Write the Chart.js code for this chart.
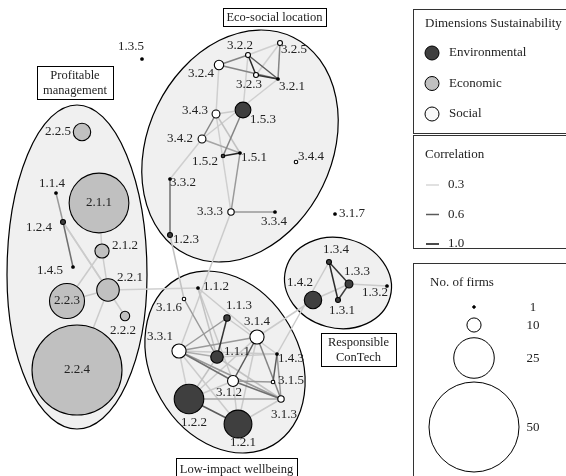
<!DOCTYPE html>
<html>
<head>
<meta charset="utf-8">
<script src="https://cdn.jsdelivr.net/npm/chart.js@4"></script>
<style>
html, body { margin: 0; padding: 0; background: #fff; }
#wrap { width: 566px; height: 476px; }
</style>
</head>
<body>
<div id="wrap"><canvas id="chart" width="566" height="476"></canvas></div>
<script>
// NODES (layout coordinates, number of firms)
var nodeIds = ['1.1.1','1.1.2','1.1.3','1.1.4','1.2.1','1.2.2','1.2.3','1.2.4','1.3.1','1.3.2','1.3.3','1.3.4','1.3.5','1.4.2','1.4.3','1.4.5','1.5.1','1.5.2','1.5.3',
  '2.1.1','2.1.2','2.2.1','2.2.2','2.2.3','2.2.4','2.2.5',
  '3.1.2','3.1.3','3.1.4','3.1.5','3.1.6','3.1.7','3.2.1','3.2.2','3.2.3','3.2.4','3.2.5','3.3.1','3.3.2','3.3.3','3.3.4','3.4.2','3.4.3','3.4.4'];
var nodeX = [217,198,227,56,238,189,170,63,338,387,349,329,142,313,277,73,240,223,243,
  99,102,108,125,67,77,82,
  233,281,257,273,184,335,278,248,256,219,280,179,170,231,275,202,216,296];
var nodeY = [357,288,318,193,424,399,235,222,300,286,284,262,59,300,354,267,153,156,110,
  203,251,290,316,301,370,132,
  381,399,337,382,299,214,79,55,75,65,43,351,179,212,212,139,114,162];
var nodeFirms = [9,1,5,1,18,19,4,4,4,1,6,4,1,12,1,1,1,3,11,
  35,10,15,7,22,50,12,
  8,5,10,3,3,1,1,4,4,7,4,10,1,5,1,6,6,3];

// label offsets from node centre (text centre)
var labelDx = [20,18,12,-4,5,5,16,-24,4,-12,8,7,-11,-13,14,-23,14,-18,20,
  0,23,22,-2,0,0,-24,
  -4,3,0,18,-15,17,14,-8,-7,-18,14,-19,13,-21,-1,-22,-21,15];
var labelDy = [-5,-1,-12,-9,19,24,5,6,11,7,-12,-12,-12,-17,5,4,5,6,10,
  0,-5,-12,15,0,0,0,
  12,16,-15,-1,9,0,8,-9,10,9,7,-14,4,0,10,0,-3,-5];

// EDGES (correlation)
var edgeFrom = ['1.1.4','1.2.4','1.2.4','1.2.4','2.1.1','2.1.2','2.1.2','2.2.1','2.2.1','2.2.1',
  '3.2.4','3.2.4','3.2.2','3.2.2','3.2.3','3.2.2','3.2.5','3.2.5','3.2.4','3.2.2','3.2.1','3.4.3','3.4.3','3.4.3','3.4.2','1.5.3','1.5.2','1.5.1','3.4.3','3.3.3','3.3.2','3.3.2','3.3.3','1.2.3',
  '3.1.6','1.1.2','1.1.2','1.1.2','1.1.3','1.1.3','1.1.3','3.3.1','3.3.1','3.3.1','3.3.1','3.3.1','3.3.1','3.3.1','3.1.4','3.1.4','3.1.4','3.1.4','1.4.3','1.4.3','1.1.1','3.1.2','3.1.2','3.1.2','3.1.2','1.2.2','1.2.2','1.2.1','1.1.1','1.1.1',
  '1.3.4','1.3.4','1.3.3','1.3.3','1.3.3','1.3.4','1.4.2'];
var edgeTo = ['1.2.4','1.4.5','2.2.1','2.2.2','2.1.2','2.2.1','2.2.3','2.2.3','2.2.4','1.1.2',
  '3.2.2','3.2.1','3.2.3','3.2.1','3.2.1','3.2.5','3.2.1','3.2.3','3.4.3','1.5.3','3.4.2','1.5.3','3.4.2','1.5.1','1.5.1','1.5.2','1.5.1','3.3.3','3.3.3','3.3.4','3.4.2','1.2.3','3.3.1','3.1.6',
  '1.1.1','3.1.4','3.1.2','1.1.1','1.1.1','3.3.1','1.4.3','3.1.4','1.1.1','3.1.2','3.1.3','1.4.3','1.2.1','1.2.2','3.1.2','3.1.3','1.2.2','1.2.1','3.1.5','3.1.3','1.4.3','3.1.5','3.1.3','1.2.2','1.2.1','1.2.1','3.1.3','3.1.3','1.2.2','3.1.3',
  '1.3.3','1.3.1','1.3.1','1.3.2','1.4.2','1.4.3','3.1.4'];
var edgeCorr = [0.45,0.55,0.33,0.32,0.32,0.33,0.33,0.33,0.33,0.32,
  0.5,0.5,0.85,0.6,0.8,0.32,0.5,0.32,0.32,0.32,0.32,0.33,0.5,0.35,0.42,0.5,0.9,0.45,0.32,0.45,0.32,0.55,0.33,0.35,
  0.45,0.33,0.33,0.35,0.8,0.45,0.33,0.45,0.4,0.55,0.45,0.33,0.33,0.32,0.6,0.5,0.33,0.33,0.6,0.45,0.33,0.45,0.55,0.33,0.33,0.6,0.42,0.33,0.35,0.35,
  0.8,0.85,0.75,0.33,0.33,0.33,0.33];

// CLUSTERS
var clusterNames = [['Profitable', 'management'], ['Eco-social location'], ['Responsible', 'ConTech'], ['Low-impact wellbeing']];
var clusterCx = [77, 240, 338, 225];
var clusterCy = [275, 146, 283, 362];
var clusterRx = [70, 92, 54, 74];
var clusterRyTop = [170, 121, 45, 96];
var clusterRyBottom = [154, 121, 45, 96];
var clusterRot = [0, 26, 15, -30];
var clusterBoxes = [[37, 66, 76, 33], [223, 8, 103, 18], [321, 333, 75, 33], [176, 458, 121, 22]];

var dimensionNames = ['Environmental', 'Economic', 'Social'];
var dimensionColors = ['#3f3f3f', '#c0c0c0', '#ffffff'];
var corrTicks = [0.3, 0.6, 1.0];
var firmTicks = [1, 10, 25, 50];

var SERIF = '"Liberation Serif", "DejaVu Serif", serif';

function radiusFor(n) {
  return Math.max(1.3, 45 * Math.pow(n / 50, 1.15));
}

function corrColor(c) {
  var g;
  if (c <= 0.6) g = 215 - (c - 0.3) / 0.3 * 125;
  else g = 90 - (c - 0.6) / 0.4 * 75;
  g = Math.round(Math.max(0, Math.min(255, g)));
  return 'rgb(' + g + ',' + g + ',' + g + ')';
}

//BUILD DATASETS
var datasets = [];

edgeFrom.forEach(function (f, i) {
  var a = nodeIds.indexOf(f), b = nodeIds.indexOf(edgeTo[i]);
  datasets.push({
    type: 'line',
    data: [{ x: nodeX[a], y: nodeY[a] }, { x: nodeX[b], y: nodeY[b] }],
    borderColor: corrColor(edgeCorr[i]),
    borderWidth: 1.5,
    pointRadius: 0,
    fill: false,
    clip: false,
    order: 3 - edgeCorr[i]
  });
});

dimensionNames.forEach(function (name, d) {
  var pts = [], fills = [];
  nodeIds.forEach(function (id, i) {
    if (parseInt(id.charAt(0), 10) - 1 !== d) return;
    pts.push({ x: nodeX[i], y: nodeY[i], r: radiusFor(nodeFirms[i]) });
    fills.push(nodeFirms[i] === 1 ? '#000' : dimensionColors[d]);
  });
  datasets.push({
    type: 'bubble',
    label: name,
    data: pts,
    backgroundColor: fills,
    borderColor: '#000',
    borderWidth: 1.1,
    clip: false,
    order: 0
  });
});

//PLUGINS
var clusterPlugin = {
  id: 'clusters',
  beforeDatasetsDraw: function (chart) {
    var ctx = chart.ctx, xs = chart.scales.x, ys = chart.scales.y;
    var kx = Math.abs(xs.getPixelForValue(100) - xs.getPixelForValue(0)) / 100;
    var ky = Math.abs(ys.getPixelForValue(100) - ys.getPixelForValue(0)) / 100;
    ctx.save();
    ctx.fillStyle = '#f0f0f0';
    ctx.strokeStyle = '#000';
    ctx.lineWidth = 1.2;
    clusterCx.forEach(function (cx, i) {
      var px = xs.getPixelForValue(cx), py = ys.getPixelForValue(clusterCy[i]);
      var rot = clusterRot[i] * Math.PI / 180;
      ctx.beginPath();
      ctx.ellipse(px, py, clusterRx[i] * kx, clusterRyTop[i] * ky, rot, Math.PI, 2 * Math.PI);
      ctx.ellipse(px, py, clusterRx[i] * kx, clusterRyBottom[i] * ky, rot, 0, Math.PI);
      ctx.closePath();
      ctx.fill();
      ctx.stroke();
    });
    ctx.restore();
  },
  afterDatasetsDraw: function (chart) {
    var ctx = chart.ctx, xs = chart.scales.x, ys = chart.scales.y;
    ctx.save();
    ctx.fillStyle = '#222';
    ctx.font = '13px ' + SERIF;
    ctx.textAlign = 'center';
    ctx.textBaseline = 'middle';
    nodeIds.forEach(function (id, i) {
      ctx.fillText(id, xs.getPixelForValue(nodeX[i]) + labelDx[i], ys.getPixelForValue(nodeY[i]) + labelDy[i]);
    });

    // cluster titles
    ctx.font = '12.5px ' + SERIF;
    clusterBoxes.forEach(function (b, i) {
      ctx.fillStyle = '#fff';
      ctx.fillRect(b[0] + 0.5, b[1] + 0.5, b[2], b[3]);
      ctx.strokeStyle = '#000';
      ctx.lineWidth = 1;
      ctx.strokeRect(b[0] + 0.5, b[1] + 0.5, b[2], b[3]);
      ctx.fillStyle = '#222';
      var lines = clusterNames[i];
      var step = 15;
      var y0 = b[1] + b[3] / 2 - (lines.length - 1) * step / 2 + 1;
      lines.forEach(function (t, k) {
        ctx.fillText(t, b[0] + b[2] / 2, y0 + k * step);
      });
    });
    ctx.restore();
  },
  afterDraw: function (chart) {
    var ctx = chart.ctx;
    ctx.save();
    ctx.strokeStyle = '#333';
    ctx.lineWidth = 1;
    ctx.fillStyle = '#fff';
    [[9, 124], [135, 113], [263, 220]].forEach(function (b) {
      ctx.fillRect(413.5, b[0] + 0.5, 160, b[1]);
      ctx.strokeRect(413.5, b[0] + 0.5, 160, b[1]);
    });

    ctx.fillStyle = '#222';
    ctx.font = '13px ' + SERIF;
    ctx.textAlign = 'left';
    ctx.textBaseline = 'middle';

    // dimensions
    ctx.fillText('Dimensions Sustainability', 425, 24);
    dimensionNames.forEach(function (name, d) {
      var y = 53 + d * 30.5;
      ctx.beginPath();
      ctx.arc(432, y, 7, 0, 2 * Math.PI);
      ctx.fillStyle = dimensionColors[d] === '#ffffff' ? '#f8f8f8' : dimensionColors[d];
      ctx.fill();
      ctx.strokeStyle = '#000';
      ctx.stroke();
      ctx.fillStyle = '#222';
      ctx.fillText(name, 449, y);
    });

    // correlation
    ctx.fillText('Correlation', 425, 155);
    corrTicks.forEach(function (c, k) {
      var y = 185 + k * 29.5;
      ctx.beginPath();
      ctx.moveTo(426, y);
      ctx.lineTo(439, y);
      ctx.strokeStyle = corrColor(c);
      ctx.lineWidth = 1.5;
      ctx.stroke();
      ctx.fillStyle = '#222';
      ctx.fillText(c.toFixed(1), 448, y);
    });

    // firms
    ctx.fillText('No. of firms', 430, 283);
    var fy = [307, 325, 358, 427];
    ctx.lineWidth = 1;
    firmTicks.forEach(function (n, k) {
      ctx.beginPath();
      ctx.arc(474, fy[k], radiusFor(n), 0, 2 * Math.PI);
      ctx.strokeStyle = '#000';
      if (n === 1) { ctx.fillStyle = '#000'; ctx.fill(); }
      ctx.stroke();
      ctx.fillStyle = '#222';
      ctx.textAlign = 'center';
      ctx.fillText(String(n), 533, fy[k] + 1);
    });
    ctx.restore();
  }
};

//PLOTCHART
new Chart(document.getElementById('chart'), {
  type: 'bubble',
  data: { datasets: datasets },
  options: {
    responsive: false,
    animation: false,
    events: [],
    layout: { padding: 0, autoPadding: false },
    scales: {
      x: { type: 'linear', min: 0, max: 566, display: false },
      y: { type: 'linear', min: 0, max: 476, reverse: true, display: false }
    },
    plugins: {
      legend: { display: false },
      tooltip: { enabled: false }
    }
  },
  plugins: [clusterPlugin]
});
</script>
</body>
</html>
